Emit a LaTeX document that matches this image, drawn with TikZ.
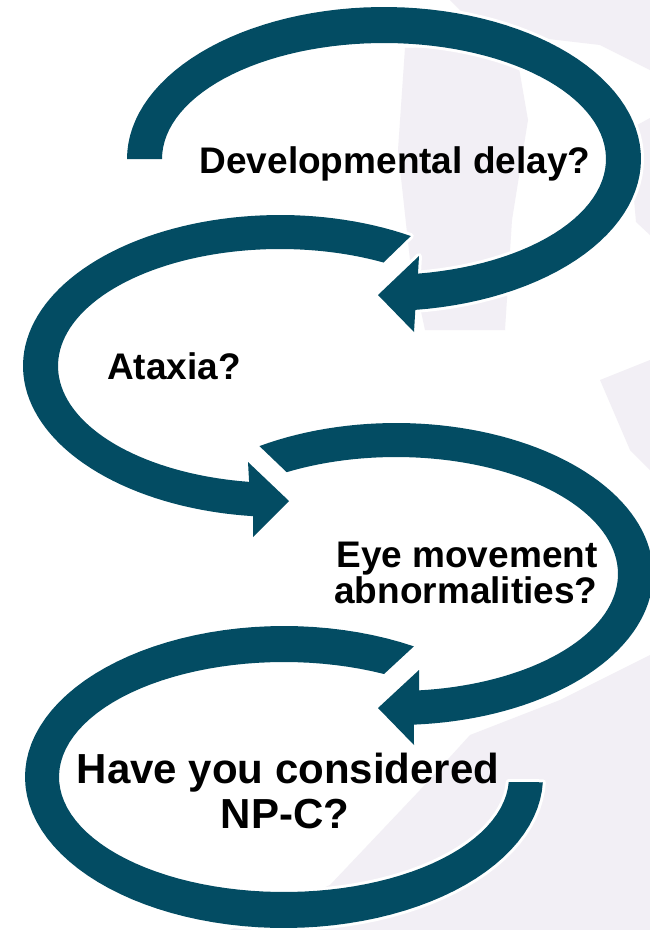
\documentclass[tikz,border=0pt]{standalone}
\usepackage{fontspec}
\setmainfont{Liberation Sans}
\definecolor{npteal}{RGB}{3,76,99}
\definecolor{wmark}{RGB}{242,239,245}
\begin{document}
\begin{tikzpicture}[x=1pt,y=-1pt,
  arrowbody/.style={fill=npteal, preaction={draw=white, line width=6pt, line join=round}},
  lbl/.style={font=\bfseries\fontsize{37}{37}\selectfont, inner sep=0pt, anchor=base, text=black},
  biglbl/.style={font=\bfseries\fontsize{42}{42}\selectfont, inner sep=0pt, anchor=base, text=black},
  wm/.style={fill=wmark, draw=none}]
\useasboundingbox (0,0) rectangle (650,930);
\clip (0,0) rectangle (650,930);
\fill[white] (0,0) rectangle (650,930);
% faint watermark
\path[wm] (450,0) -- (650,0) -- (650,70) -- (600,45) -- (540,38) -- (480,30) -- cycle;
\path[wm] (405,48) -- (515,45) -- (528,120) -- (512,220) -- (505,330) -- (425,330) -- (410,260) -- (398,150) -- cycle;
\path[wm] (628,130) -- (650,118) -- (650,235) -- (636,222) -- cycle;
\path[wm] (230,930) -- (330,885) -- (420,790) -- (470,735) -- (560,700) -- (650,655) -- (650,930) -- cycle;
\path[wm] (600,380) -- (650,360) -- (650,470) -- (630,450) -- cycle;
% arrow 4 (no head)
\path[arrowbody] plot[domain=59.9:358, samples=90] ({284+259*cos(\x)},{777-151*sin(\x)})
  -- plot[domain=357.5:63.6, samples=90] ({284+225*cos(\x)},{777-115*sin(\x)}) -- cycle;
% arrow 3
\path[arrowbody] plot[domain=122.1:-86, samples=90] ({396+257*cos(\x)},{574-151*sin(\x)})
  -- (414,745) -- (378,708) -- (419,670)
  -- plot[domain=-84:119.5, samples=90] ({396+222*cos(\x)},{574-117*sin(\x)}) -- cycle;
% arrow 2
\path[arrowbody] plot[domain=59.4:264, samples=90] ({280+257*cos(\x)},{366-151*sin(\x)})
  -- (253,537) -- (289,501) -- (248,462)
  -- plot[domain=262:62.2, samples=90] ({280+222*cos(\x)},{366-117*sin(\x)}) -- cycle;
% arrow 1
\path[arrowbody] plot[domain=180:-83, samples=90] ({384+257*cos(\x)},{159-152*sin(\x)})
  -- (414,332) -- (378,295) -- (419,256)
  -- plot[domain=-81.2:180, samples=90] ({384+222*cos(\x)},{159-116*sin(\x)}) -- cycle;
% labels
\node[lbl] (t1) at (395,173) {Developmental delay?};
\node[lbl] (t2) at (174,379) {Ataxia?};
\node[lbl] (t3a) at (467,567) {Eye movement};
\node[lbl] (t3b) at (466,603) {abnormalities?};
\node[biglbl] (t4a) at (288,783) {Have you considered};
\node[biglbl] (t4b) at (285,828) {NP-C?};
\end{tikzpicture}
\end{document}
